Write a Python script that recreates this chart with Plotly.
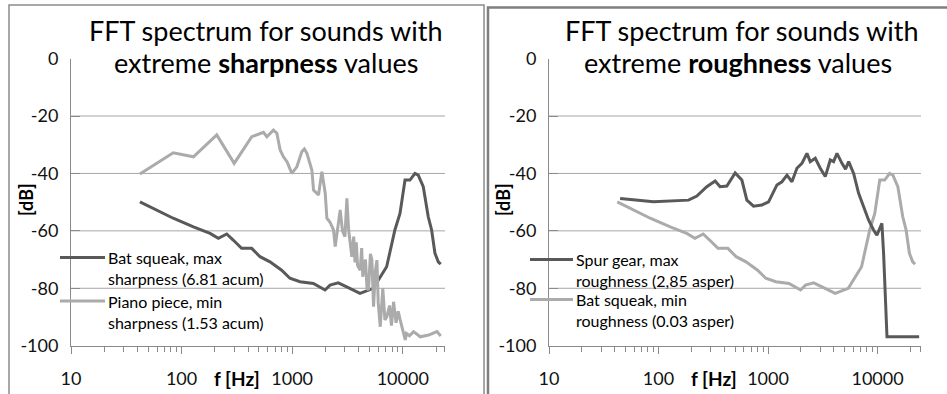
import plotly.graph_objects as go

# ---------------- data ----------------
bat_freq = [42, 84, 128, 181, 215, 256, 293, 349, 430, 512, 630, 803, 954, 1177, 1555,
            1983, 2200, 2613, 3111, 4105, 5410, 6220, 7150, 8490, 9440, 10480, 11620,
            12890, 13800, 15330, 17000, 18240, 19550, 20950, 22050]
bat_db = [-49.9, -55.6, -58.6, -60.9, -62.6, -61.1, -63.2, -66.1, -66.1, -69.0, -70.8,
          -73.7, -76.5, -77.7, -78.3, -80.6, -78.9, -78.1, -79.5, -81.8, -80.0, -76.0,
          -72.5, -59.7, -53.9, -42.3, -42.3, -40.0, -40.6, -44.6, -55.1, -59.7, -67.8,
          -70.8, -71.6]

piano_freq = [42, 84, 128, 208, 299, 431, 550, 590, 677, 727, 778, 834, 900, 993, 1102,
              1150, 1224, 1290, 1359, 1507, 1560, 1730, 1856, 1990, 2060, 2200, 2366,
              2450, 2600, 2718, 2850, 3000, 3124, 3240, 3467, 3600, 3700, 3800, 3900,
              4120, 4250, 4350, 4600, 4750, 4900, 5100, 5260, 5445, 5650, 5840, 6000,
              6260, 6600, 6900, 7190, 7600, 7900, 8260, 8700, 9100, 9490, 10000, 10530,
              10800, 11500, 12530, 14400, 17130, 20370, 22050]
piano_db = [-40.2, -32.8, -34.2, -26.6, -36.5, -27.2, -25.7, -27.2, -24.9, -26.0, -31.8,
            -34.2, -36.0, -40.0, -37.7, -35.5, -32.4, -31.5, -33.0, -38.8, -45.8, -47.5,
            -39.4, -46.9, -55.6, -57.0, -59.7, -65.5, -58.0, -52.7, -60.0, -62.0, -48.7,
            -59.7, -69.0, -62.0, -71.0, -64.0, -72.0, -73.7, -66.0, -76.0, -70.0, -80.0,
            -80.6, -68.0, -70.2, -86.4, -74.0, -70.2, -85.0, -93.4, -80.0, -91.0, -89.9,
            -86.0, -93.0, -84.7, -92.0, -88.0, -91.1, -95.0, -98.0, -95.7, -96.5, -95.1,
            -96.9, -96.3, -95.1, -96.6]

gear_freq = [44.6, 90, 188, 224, 276, 329, 365, 421, 501, 577, 641, 737, 879, 1012, 1206,
             1340, 1490, 1653, 1836, 2040, 2268, 2430, 2700, 3000, 3333, 3703, 3970, 4263,
             4735, 5100, 5450, 6050, 6720, 7460, 8280, 9200, 9870, 10960, 11360, 12200,
             16150, 24000]
gear_db = [-48.7, -49.9, -49.3, -47.9, -44.6, -42.6, -44.6, -44.4, -39.8, -42.3, -49.3,
           -51.4, -51.0, -49.9, -44.0, -42.9, -40.6, -42.9, -38.2, -36.5, -33.0, -35.9,
           -34.7, -38.2, -41.1, -35.3, -35.9, -33.0, -36.5, -38.5, -35.9, -40.0, -46.9,
           -51.6, -56.2, -59.7, -61.5, -57.4, -67.8, -96.9, -96.9, -96.9]

y_ticks = [-100, -80, -60, -40, -20, 0]
y_ticktext = ["-100", "-80", "-60", "-40", "-20", "0"]
x_ticks = [10, 100, 1000, 10000]
x_ticktext = ["10", "100", "1000", "10000"]
grid_levels = [-80, -60, -40, -20]

left_legend = [("Bat squeak, max", "sharpness (6.81 acum)"),
               ("Piano piece, min", "sharpness (1.53 acum)")]
right_legend = [("Spur gear, max", "roughness (2,85 asper)"),
                ("Bat squeak, min", "roughness (0.03 asper)")]

# ---------------- style ----------------
W, H = 947, 394
DARK = "#595959"
LIGHT = "#ababab"
AXC = "#8a8a8a"
GRIDC = "#a6a6a6"
FONT = "Lato"


def px(x):
    return x / W


def py(y):
    return 1 - y / H


def minor_vals(xmax):
    vals = []
    for d in range(1, 5):
        for k in range(2, 10):
            v = k * 10 ** d
            if v < xmax:
                vals.append(v)
    vals.append(xmax * 0.999)
    return vals


fig = go.Figure()
fig.add_trace(go.Scatter(x=bat_freq, y=bat_db, mode="lines", line=dict(color=DARK, width=3),
                         name="Bat squeak, max sharpness (6.81 acum)", xaxis="x", yaxis="y"))
fig.add_trace(go.Scatter(x=piano_freq, y=piano_db, mode="lines", line=dict(color=LIGHT, width=3),
                         name="Piano piece, min sharpness (1.53 acum)", xaxis="x", yaxis="y"))
fig.add_trace(go.Scatter(x=bat_freq, y=bat_db, mode="lines", line=dict(color=LIGHT, width=3),
                         name="Bat squeak, min roughness (0.03 asper)", xaxis="x2", yaxis="y2"))
fig.add_trace(go.Scatter(x=gear_freq, y=gear_db, mode="lines", line=dict(color=DARK, width=3),
                         name="Spur gear, max roughness (2,85 asper)", xaxis="x2", yaxis="y2"))

R1 = 4.382
R2 = 4.397


def xaxis(dom, rmax, anchor):
    return dict(domain=dom, type="log", range=[1, rmax],
                anchor=anchor, tickvals=x_ticks, ticktext=x_ticktext, automargin=False,
                ticks="outside", ticklen=7, tickcolor=AXC, tickwidth=1,
                showline=True, linecolor=AXC, linewidth=1, showgrid=False, zeroline=False,
                minor=dict(tickvals=minor_vals(10 ** rmax), ticks="outside", ticklen=5,
                           tickcolor=AXC, tickwidth=1, showgrid=False),
                tickfont=dict(family=FONT, size=18, color="#111"),
                ticklabelstandoff=10)


def yaxis(anchor):
    return dict(domain=[py(345.7), py(58.6)], range=[-100, 0], anchor=anchor, automargin=False,
                tickvals=y_ticks, ticktext=y_ticktext, ticks="inside", ticklen=9,
                tickcolor=AXC, tickwidth=1,
                showline=True, linecolor=AXC, linewidth=1, showgrid=False, zeroline=False,
                tickfont=dict(family=FONT, size=18, color="#111"), ticklabelstandoff=8)


shapes = []
for yref, xdom in (("y", "x domain"), ("y2", "x2 domain")):
    for g in grid_levels:
        shapes.append(dict(type="line", xref=xdom, yref=yref, x0=0, x1=1, y0=g, y1=g,
                           line=dict(color=GRIDC, width=1), layer="below"))
# panel borders
shapes.append(dict(type="rect", xref="paper", yref="paper", x0=px(9), x1=px(484),
                   y0=py(5), y1=py(420), line=dict(color="#8c8c8c", width=1.5), layer="below"))
shapes.append(dict(type="rect", xref="paper", yref="paper", x0=px(488), x1=px(980),
                   y0=py(7.5), y1=py(420), line=dict(color="#7f7f7f", width=2.5), layer="below"))

annotations = []


def ann(text, x, y, size, bold=False, angle=0, xanchor="center"):
    annotations.append(dict(text=f"<b>{text}</b>" if bold else text, x=px(x), y=py(y),
                            xref="paper", yref="paper", showarrow=False, xanchor=xanchor,
                            yanchor="middle", textangle=angle,
                            font=dict(family=FONT, size=size, color="#000")))


ann("FFT spectrum for sounds with", 265.5, 30, 27)
ann("extreme <b>sharpness</b> values", 266, 63, 27)
ann("FFT spectrum for sounds with", 741, 30, 27)
ann("extreme <b>roughness</b> values", 738, 63, 27)
ann("[dB]", 26, 200, 18, bold=True, angle=-90)
ann("[dB]", 503, 200, 18, bold=True, angle=-90)
ann("f [Hz]", 236.5, 378, 19, bold=True)
ann("f [Hz]", 713.5, 378, 19, bold=True)

# custom legends (key line + two-line label)
for entries, colors, lx0, lx1, tx, ys in (
        (left_legend, (DARK, LIGHT), 60, 105, 106, (257.5, 301)),
        (right_legend, (DARK, LIGHT), 530, 573, 574, (259.5, 299.5))):
    for (l1, l2), col, yy in zip(entries, colors, ys):
        shapes.append(dict(type="line", xref="paper", yref="paper", x0=px(lx0), x1=px(lx1),
                           y0=py(yy), y1=py(yy), line=dict(color=col, width=3)))
        ann(l1, tx, yy, 16, xanchor="left")
        ann(l2, tx, yy + 21.3, 16, xanchor="left")

fig.update_layout(
    width=W, height=H, margin=dict(l=0, r=0, t=0, b=0, autoexpand=False),
    paper_bgcolor="white", plot_bgcolor="rgba(0,0,0,0)",
    xaxis=xaxis([px(71), px(445)], R1, "y"),
    yaxis=yaxis("x"),
    xaxis2=xaxis([px(549), px(921)], R2, "y2"),
    yaxis2=yaxis("x2"),
    shapes=shapes, annotations=annotations,
    showlegend=False,
)

fig.write_html("out.html", config={"displayModeBar": False},
               post_script="document.body.style.margin='0';")
